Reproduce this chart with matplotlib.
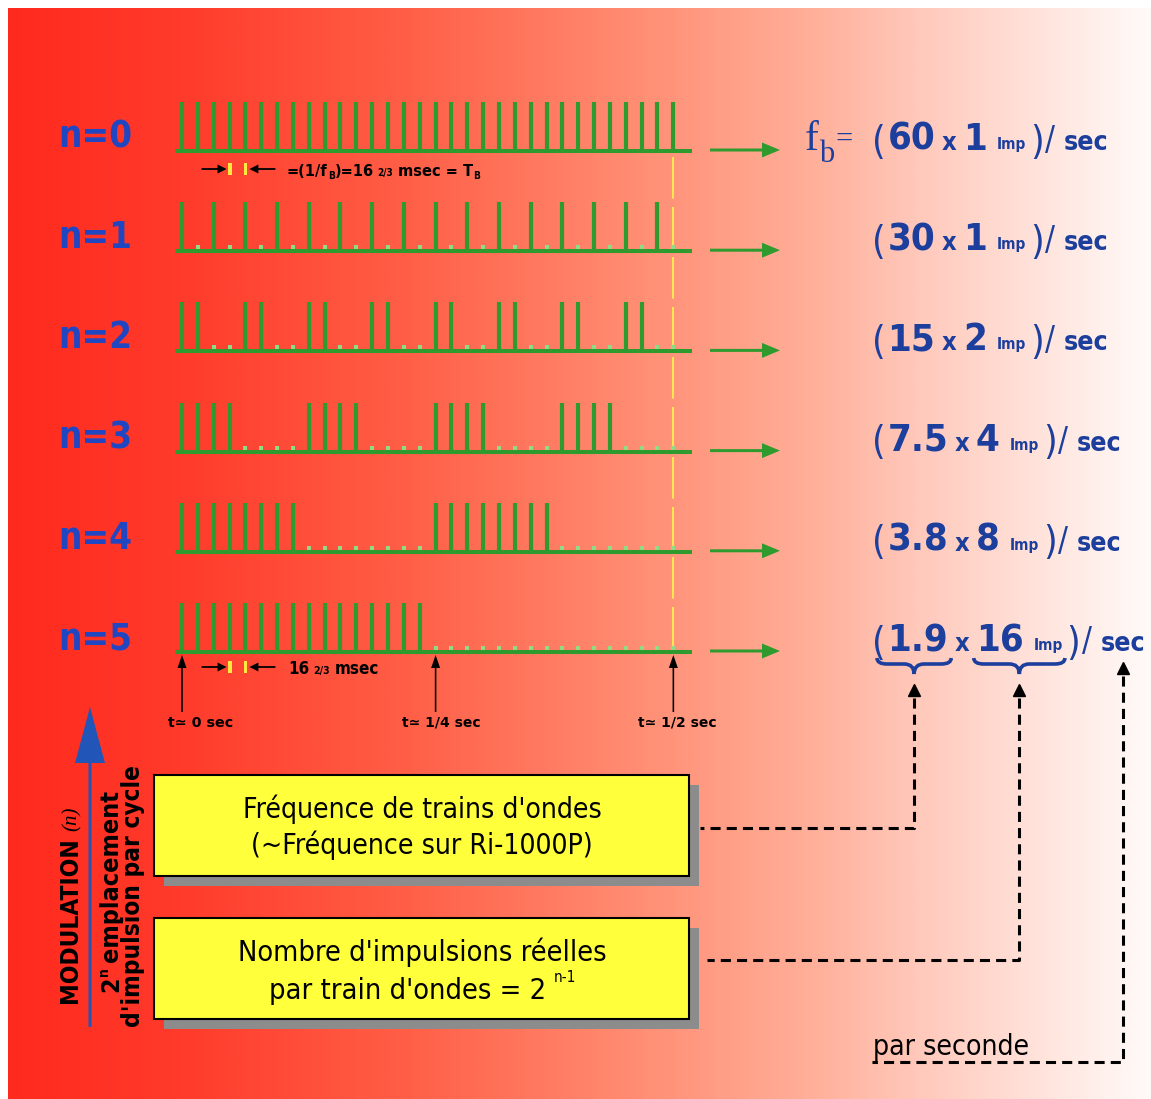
import os
import numpy as np
import matplotlib
matplotlib.use('Agg')
import matplotlib.pyplot as plt
import matplotlib.font_manager as fm
from matplotlib.font_manager import FontProperties
from matplotlib.colors import LinearSegmentedColormap
from matplotlib.patches import FancyArrow, Rectangle, PathPatch
from matplotlib.path import Path

# data
n_values = [0, 1, 2, 3, 4, 5]
trains_per_sec = ["60", "30", "15", "7.5", "3.8", "1.9"]
pulses_per_train = ["1", "1", "2", "4", "8", "16"]
# 32 time slots of 16 2/3 msec over 1/2 sec: '|' = real pulse, '.' = empty slot
patterns = [
    "||||||||||||||||||||||||||||||||",
    "|.|.|.|.|.|.|.|.|.|.|.|.|.|.|.|.",
    "||..||..||..||..||..||..||..||..",
    "||||....||||....||||....||||....",
    "||||||||........||||||||........",
    "||||||||||||||||................",
]
time_labels = ["t≃ 0 sec", "t≃ 1/4 sec", "t≃ 1/2 sec"]
time_slots = [0, 16, 31]
box_lines = [("Fréquence de trains d'ondes", "(~Fréquence sur Ri-1000P)"),
             ("Nombre d'impulsions réelles", "par train d'ondes = 2")]


# a narrow face is closer to the original lettering; take the first one found
def find_face(names):
    files = {os.path.basename(f.fname): f.fname for f in fm.fontManager.ttflist}
    for nm in names:
        if nm in files:
            return FontProperties(fname=files[nm])
    return None


BOLD = find_face(['LiberationSansNarrow-Bold.ttf', 'DejaVuSansCondensed-Bold.ttf',
                  'NotoSans-ExtraCondensedBold.ttf', 'NotoSans-CondensedBold.ttf',
                  'RobotoCondensed-Bold.ttf', 'OpenSans-CondBold.ttf',
                  'NotoSans-SemiCondensedBold.ttf']) or FontProperties(family='DejaVu Sans', weight='bold')
REG = find_face(['LiberationSansNarrow-Regular.ttf', 'DejaVuSansCondensed.ttf',
                 'NotoSans-ExtraCondensed.ttf', 'NotoSans-Condensed.ttf',
                 'RobotoCondensed-Regular.ttf', 'NotoSans-SemiCondensed.ttf']) or FontProperties(family='DejaVu Sans')

# layout
W, H = 1151, 1099
X0, STEP = 182, 15.85
ROW0, ROW_GAP = 151, 100.2
PULSE_H = 49
green = '#2f9b2f'
dot_green = '#8fdc86'
blue = '#1c3f9e'
nblue = '#2146c2'

fig = plt.figure(figsize=(W / 100, H / 100), dpi=100)
ax = fig.add_axes([0, 0, 1, 1])
ax.set_xlim(0, W)
ax.set_ylim(H, 0)
ax.axis('off')
renderer = fig.canvas.get_renderer()


def P(bold, size, family=None, style='normal'):
    if family:
        return FontProperties(family=family, style=style,
                              weight='bold' if bold else 'normal', size=size)
    p = (BOLD if bold else REG).copy()
    p.set_size(size)
    return p


def measure(s, prop):
    t = ax.text(0, 0, s, fontproperties=prop)
    w = t.get_window_extent(renderer).width
    t.remove()
    return w


def fit(s, target, max_size, bold=True, family=None, style='normal'):
    w = measure(s, P(bold, max_size, family, style))
    return min(max_size, max_size * target / w)


def run_width(pieces, k=1.0):
    return sum(measure(p[0], P(p[1], p[2] * k, *p[5:])) + p[4] * k for p in pieces)


def put_run(x, y, pieces, k=1.0, color='black', rot=False):
    boxes = []
    for p in pieces:
        s, bold, size, dy, gap = p[:5]
        prop = P(bold, size * k, *p[5:])
        if not rot:
            t = ax.text(x, y + dy * k, s, ha='left', va='baseline', fontproperties=prop,
                        color=color, zorder=5)
            w = t.get_window_extent(renderer).width
            boxes.append((x, x + w))
            x += w + gap * k
        else:
            t = ax.text(x + dy * k, y, s, rotation=90, rotation_mode='anchor', ha='left',
                        va='baseline', fontproperties=prop, color=color, zorder=5)
            w = t.get_window_extent(renderer).height
            boxes.append((y, y - w))
            y -= w + gap * k
    return boxes


# background gradient
cmap = LinearSegmentedColormap.from_list('bg', [
    (0.0, '#ff2a1e'), (0.15, '#ff3b2b'), (0.35, '#ff5f47'), (0.55, '#ff8d73'),
    (0.7, '#ffae98'), (0.8, '#ffc9bb'), (0.9, '#ffe2da'), (1.0, '#fffaf8')])
ax.imshow(np.linspace(0, 1, 400)[None, :], cmap=cmap, aspect='auto',
          extent=[8, W, H, 8], zorder=0)

# yellow dashed guide at 1/2 sec
xg = X0 + time_slots[2] * STEP
ax.plot([xg, xg], [ROW0 + 6, ROW0 + 5 * ROW_GAP], color='#ffe650', lw=1.5,
        dashes=(20, 4), zorder=1)


def formula(i):
    return [("(", False, 31, 4, 2),
            (trains_per_sec[i], True, 30, 0, 7),
            ("x", True, 20, 0, 7),
            (pulses_per_train[i], True, 30, 0, 11),
            ("Imp", True, 12, -1, 4),
            (")", False, 31, 4, 2),
            ("/", False, 26, 0, 9),
            ("sec", True, 21, 0, 0)]


k_form = min(1.0, 236 / run_width(formula(0)))
n_size = fit("n=0", 74, 34)

# pulse trains
for i, n in enumerate(n_values):
    base = ROW0 + i * ROW_GAP
    pat = patterns[i]
    xs = np.array([X0 + k * STEP for k in range(len(pat))])
    on = np.array([c == '|' for c in pat])
    ax.plot([175, 692], [base, base], color=green, lw=2.9, solid_capstyle='butt', zorder=3)
    ax.vlines(xs[on], base - PULSE_H, base, color=green, lw=3.0, zorder=3)
    ax.scatter(xs[~on], np.full((~on).sum(), base - 4), marker='s', s=9,
               color=dot_green, linewidths=0, zorder=4)
    ax.add_patch(FancyArrow(710, base - 1, 70, 0, width=3, head_width=15, head_length=18,
                            length_includes_head=True, color=green, lw=0, zorder=3))
    ax.text(58, base - 3, f"n={n}", fontproperties=P(True, n_size), color=nblue,
            ha='left', va='baseline', zorder=4)
    boxes = put_run(872, base - 1, formula(i), k=k_form, color=blue)
    if i == 0:
        put_run(805, base - 1, [("f", False, 30, 0, 0, 'Liberation Serif'),
                                ("b", False, 22, 12, 1, 'Liberation Serif'),
                                ("=", False, 22, -2, 0, 'Liberation Serif')], color=blue)
    if i == len(n_values) - 1:
        last_boxes = boxes
        last_base = base


def brace(x1, x2, ytop, ybot, color=blue):
    xm = (x1 + x2) / 2
    ym = (ytop + ybot) / 2 - 2
    q = 10
    verts = [(x1, ytop), (x1, ym), (x1 + q, ym), (xm - q, ym), (xm, ym), (xm, ybot),
             (xm, ym), (xm + q, ym), (x2 - q, ym), (x2, ym), (x2, ytop)]
    codes = [Path.MOVETO, Path.CURVE3, Path.CURVE3, Path.LINETO, Path.CURVE3, Path.CURVE3,
             Path.CURVE3, Path.CURVE3, Path.LINETO, Path.CURVE3, Path.CURVE3]
    ax.add_patch(PathPatch(Path(verts, codes), fill=False, edgecolor=color, lw=2.6, zorder=4))
    return xm


# braces under the last row
b1 = brace(last_boxes[0][0] + 5, last_boxes[1][1] + 3, last_base + 6, last_base + 22)
b2 = brace(last_boxes[3][0] - 2, last_boxes[4][1] + 2, last_base + 6, last_base + 22)
b3 = (last_boxes[7][0] + last_boxes[7][1]) / 2

# black dashed connectors
dash = dict(color='black', lw=2.2, dashes=(3.3, 2.0), zorder=4)
for xc, ytop, yh, xl in [(b1, 698, 828, 700), (b2, 698, 960, 707), (b3, 676, 1062, 872)]:
    ax.plot([xc, xc, xl], [ytop, yh, yh], **dash)
    ax.plot([xc], [ytop - 8], marker='^', ms=9, color='black', zorder=4)

ax.text(873, 1055, "par seconde", fontproperties=P(False, fit("par seconde", 157, 26, False)),
        color='black', ha='left', va='baseline')

# period markers
for yy, top_row in [(ROW0 + 18, True), (ROW0 + 5 * ROW_GAP + 15, False)]:
    xa, xb = X0 + 3 * STEP, X0 + 4 * STEP
    ax.add_patch(FancyArrow(xa - 28, yy, 25, 0, width=1.8, head_width=9, head_length=9,
                            length_includes_head=True, color='black', lw=0, zorder=4))
    ax.add_patch(FancyArrow(xb + 30, yy, -26, 0, width=1.8, head_width=9, head_length=9,
                            length_includes_head=True, color='black', lw=0, zorder=4))
    for xt in (xa, xb):
        ax.add_patch(Rectangle((xt - 1.5, yy - 6), 3.5, 12, color='#ffe840', lw=0, zorder=4))
    if top_row:
        pcs = [("=(1/f", True, 13, 0, 0), ("B", True, 8, 3, 0), (")=16", True, 13, 0, 4),
               ("2/3", True, 8, 0, 5), ("msec = T", True, 13, 0, 0), ("B", True, 8, 3, 0)]
        put_run(287, yy + 7, pcs, k=min(1.0, 192 / run_width(pcs)))
    else:
        pcs = [("16", True, 13, 0, 4), ("2/3", True, 8, 0, 5), ("msec", True, 13, 0, 0)]
        put_run(288, yy + 7, pcs, k=min(1.0, 91 / run_width(pcs)))

# time arrows under n=5
base5 = ROW0 + 5 * ROW_GAP
for slot, lab, off, wd in zip(time_slots, time_labels, [-14, -34, -35], [65, 78, 78]):
    xt = X0 + slot * STEP
    ax.add_patch(FancyArrow(xt, 712, 0, base5 + 3 - 712, width=1.6, head_width=9,
                            head_length=13, length_includes_head=True, color='black',
                            lw=0, zorder=4))
    sz = fit(lab, wd, 12, True, 'DejaVu Sans')
    ax.text(xt + off, 727, lab, fontproperties=P(True, sz, 'DejaVu Sans'), color='black',
            ha='left', va='baseline')

# yellow boxes
widths = [361, 370]
for j, (top, (l1, l2), w1) in enumerate(zip([775, 918], box_lines, widths)):
    ax.add_patch(Rectangle((164, top + 10), 535, 101, color='#8c8c8c', lw=0, zorder=2))
    ax.add_patch(Rectangle((154, top), 535, 101, facecolor='#ffff3c', edgecolor='black',
                           lw=1.5, zorder=3))
    s1 = fit(l1, w1, 26, False)
    ax.text(422, top + 43, l1, fontproperties=P(False, s1), color='black', ha='center',
            va='baseline', zorder=4)
    if j == 0:
        ax.text(422, top + 79, l2, fontproperties=P(False, s1),
                color='black', ha='center', va='baseline', zorder=4)
    else:
        t = ax.text(408, top + 81, l2, fontproperties=P(False, s1),
                    color='black', ha='center', va='baseline', zorder=4)
        bb = t.get_window_extent(renderer)
        ax.text(408 + bb.width / 2 + 7, top + 64, "n-1", fontproperties=P(False, 11),
                color='black', ha='left', va='baseline', zorder=4)

# vertical legend on the left
ax.add_patch(FancyArrow(90, 1027, 0, -320, width=3, head_width=30, head_length=56,
                        length_includes_head=True, color='#2255b8', lw=0, zorder=3))
put_run(77, 1003, [("MODULATION", True, fit("MODULATION", 165, 22), 0, 6),
                   ("(n)", False, 15, 0, 0, 'Liberation Serif', 'italic')], rot=True)
pcs = [("2", True, 18, 0, 0), ("n", True, 10, -10, 5), ("emplacement", True, 18, 0, 0)]
put_run(118, 992, pcs, k=min(1.0, 232 / run_width(pcs)), rot=True)
ax.text(140, 1027, "d'impulsion par cycle",
        fontproperties=P(True, fit("d'impulsion par cycle", 269, 17.5)), color='black',
        rotation=90, rotation_mode='anchor', ha='left', va='baseline')

fig.savefig('out.png', dpi=100)
